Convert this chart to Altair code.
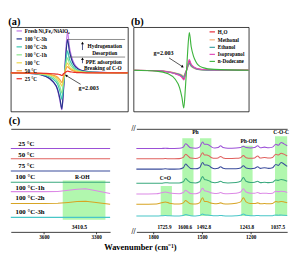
import altair as alt
import pandas as pd

FONT = "Liberation Serif"
INK = "#000000"

# ------------------------------------------------------------------ (a)
g_grid = [1.980, 1.990, 1.995, 1.998, 2.000, 2.001, 2.0018, 2.0025, 2.003,
          2.0035, 2.0042, 2.005, 2.006, 2.007, 2.008, 2.010, 2.015, 2.030]
a_names = ["Fresh Ni₃Fe₁/NiAlO₄", "100 °C-3h", "100 °C-2h", "100 °C-1h",
           "100 °C", "50 °C", "25 °C"]
a_colors = ["#c27ae8", "#28368e", "#3dc9b3", "#8fe68f", "#efd84f", "#f4a43f", "#e8302a"]
a_widths = [1.3, 1.3, 1.2, 1.2, 1.2, 1.2, 2.6]
a_fresh = [0, -1, -4, -10, -20, -32, -42, -20, 0, 25, 47, 30, 18, 11, 7, 3, 1, 0]
a_3h = [0, -1, -4, -10, -19, -30, -41, -18, 0, 20, 38, 25, 15, 9, 6, 3, 1, 0]
a_2h = [0, -1, -3, -7, -13, -21, -30, -13, 0, 13, 25, 16, 10, 6, 4, 2, 0.5, 0]
a_1h = [0, -0.5, -2, -5, -10, -16, -23, -10, 0, 9, 17, 11, 7, 4, 3, 1.5, 0.5, 0]
a_100 = [0, -0.5, -1.5, -3.5, -7, -11, -15, -6, 0, 6, 11, 7, 4.5, 3, 2, 1, 0.3, 0]
a_50 = [0, -0.3, -1, -2.5, -5, -8, -11, -4, 0, 4, 7, 5, 3, 2, 1.2, 0.6, 0.2, 0]
a_25 = [0, -0.2, -0.5, -1, -1.5, -2, -3, -1, 0, 1, 2, 1.5, 1, 0.6, 0.4, 0.2, 0, 0]
a_series = [a_fresh, a_3h, a_2h, a_1h, a_100, a_50, a_25]

a_note_text = ["Hydrogenation", "Desorption", "PPE adsorption", "Breaking of C-O", "g=2.003"]
a_note_g = [2.0201, 2.0201, 2.0197, 2.0193, 2.01325]
a_note_v = [31, 23, 12.5, 5, -17]
a_note_fs = [5.7, 5.7, 5.7, 5.7, 6.5]
a_hline_v = [38, 18]
a_hline_g1 = [2.0040, 2.0048]
a_hline_g2 = [2.0288, 2.0288]
a_arrow_g = [2.0106, 2.0106]
a_arrow_v1 = [26, 11]
a_arrow_v2 = [34, 16]
a_ptr = [2.0098, -13, 2.0036, -3]          # g1, v1, g2, v2
a_head_g = [2.0106, 2.0106, 2.0036]
a_head_v = [34, 16, -3]
a_head_ang = [0, 0, 305]

# ------------------------------------------------------------------ (b)
b_names = ["H₂O", "Methonal", "Ethanol", "Isopropanol", "n-Dodecane"]
b_colors = ["#e8303c", "#f6b27a", "#3a9fa0", "#e048b8", "#3cb43c"]
b_widths = [1.3, 1.2, 1.2, 1.3, 1.3]
b_h2o = [0, -0.5, -2, -3.5, -5.5, -7.5, -10, -4, 0, 5, 10, 6, 3.5, 2, 1.2, 0.6, 0.2, 0]
b_meoh = [0, -0.4, -1.5, -3, -4.5, -5.5, -6.5, -2.5, 0, 3.5, 7, 4.5, 2.5, 1.5, 0.9, 0.4, 0.1, 0]
b_etoh = [0, -0.5, -1.8, -3.5, -5, -6.5, -8, -3, 0, 4, 8, 5, 3, 1.8, 1, 0.5, 0.2, 0]
b_ipa = [0, -0.5, -2, -4, -6, -8, -11, -5, 0, 6, 12, 7, 4, 2.5, 1.5, 0.8, 0.3, 0]
b_dod = [0, -1, -4, -10, -20, -31, -43, -20, 0, 22, 43, 27, 16, 10, 6, 3, 1, 0]
b_series = [b_h2o, b_meoh, b_etoh, b_ipa, b_dod]
b_note_text = ["g=2.003"]
b_note_g = [1.9930]
b_note_v = [19]
b_note_fs = [6.5]
b_ptr = [1.9954, 14, 2.0013, 4]
b_head_g = [2.0013]
b_head_v = [4]
b_head_ang = [126]

# ------------------------------------------------------------------ (c)
c_names = ["25 °C", "50 °C", "75 °C", "100 °C", "100 °C-1h", "100 °C-2h", "100 °C-3h"]
c_colors = ["#9b4fd6", "#e0605e", "#3b4c9c", "#3aa97e", "#dc8ae6", "#d7a423", "#48c6c8"]
c_label_wn = [3747, 3747, 3747, 3763, 3763, 3763, 3763]
c_label_v = [93.7, 82, 70.3, 58.7, 47, 36, 21.3]

wl_grid = [3790, 3700, 3600, 3520, 3460, 3410, 3360, 3300, 3220]
cl_base = [89, 78, 65, 53, 0, 0, 15.5]
cl_25 = [0, 0, 0, 0, 0, 0, 0, 0, 0]
cl_50 = [0, 0, 0, 0, 0, 0, 0, 0, 0]
cl_75 = [0, 0, 0, 0, 0, 0, 0, 0, 0]
cl_100 = [0, 0, 0, 0, 0, 0, 0, 0, 0]
cl_1h = [43, 43, 43, 43.2, 44.5, 45.5, 46, 44, 41]
cl_2h = [30.3, 30.3, 30.3, 30.5, 31.5, 32.5, 32.7, 31.5, 29.5]
cl_3h = [0, 0, 0, 0, 0, 0, 0, 0, 0]
cl_series = [cl_25, cl_50, cl_75, cl_100, cl_1h, cl_2h, cl_3h]

wr_grid = [1904, 1780, 1750, 1726, 1700, 1640, 1615, 1600, 1588, 1570, 1540, 1515,
           1496, 1484, 1470, 1455, 1440, 1420, 1400, 1385, 1370, 1340, 1290, 1262,
           1245, 1228, 1200, 1175, 1157, 1140, 1115, 1090, 1065, 1045, 1030, 1012, 995, 975]
cr_base = [89, 78, 67, 52, 40.5, 29.5, 17]
cr_25 = [0, 0, 0, 0.3, 0, 0.2, 1.5, 5, 3.5, 0.8, 0.3, 1.5, 7, 4.5, 4.5, 3.5, 1.5, 0.5, 1, 3,
         1, 0.3, 0.5, 1, 2.5, 1, 0.5, 1, 3, 0.8, 1.5, 0.8, 1.5, 4.5, 3.5, 6.5, 5, 3]
cr_50 = [0, 0, 0, 0.3, 0, 0.2, 1.5, 5, 3.5, 0.8, 0.3, 1.5, 6.5, 4, 4, 3, 1.2, 0.5, 1, 2.5,
         1, 0.3, 0.5, 1.2, 3.5, 1.2, 0.5, 1, 3, 0.8, 1.5, 0.8, 1.5, 5, 4, 6, 5, 3]
cr_75 = [0, 0, 0, 0.3, 0, 0.2, 1.5, 5.5, 3.5, 0.8, 0.3, 1.5, 7, 4.5, 4.5, 3.5, 1.5, 0.5, 1, 2.5,
         1, 0.3, 0.5, 1.2, 3.5, 1.2, 0.5, 1, 2.5, 0.8, 1.5, 0.8, 1.5, 5, 4, 7, 5.5, 3]
cr_100 = [0, 0, 0, 0.5, 0.2, 0.2, 1.5, 5, 3, 0.8, 0.3, 1.5, 7, 4, 3.5, 2.5, 1, 0.5, 1, 2,
          0.8, 0.3, 0.8, 2, 6, 2, 0.8, 1, 2, 0.6, 1, 0.6, 1, 3.5, 3, 4, 3.5, 2]
cr_1h = [0, 0.3, 1.2, 2, 1, 0.2, 1.5, 4, 2.5, 0.6, 0.3, 1.5, 6, 3.5, 3, 2, 1, 0.5, 0.8, 1.5,
         0.6, 0.3, 0.8, 2, 5.5, 2, 0.8, 0.8, 1.5, 0.5, 0.8, 0.5, 0.8, 3, 2.5, 3, 2.5, 1.5]
cr_2h = [0, 0.3, 1.5, 2.5, 1.2, 0.2, 1.5, 4, 2.5, 0.6, 0.3, 1.5, 7, 3, 3, 2, 1, 0.5, 0.8, 1.5,
         0.6, 0.3, 1, 2.5, 7, 2.5, 0.8, 0.8, 1.5, 0.5, 0.8, 0.5, 0.8, 3, 2.5, 3, 2.5, 1.5]
cr_3h = [0, 0, 0.2, 0.5, 0.2, 0, 0.5, 1.5, 1, 0.2, 0, 0.5, 2, 1.2, 1, 0.8, 0.4, 0.2, 0.3, 0.6,
         0.2, 0, 0.3, 0.8, 2, 0.8, 0.3, 0.3, 0.6, 0.2, 0.3, 0.2, 0.3, 1, 0.8, 1, 0.8, 0.5]
cr_series = [cr_25, cr_50, cr_75, cr_100, cr_1h, cr_2h, cr_3h]

bandL_wn1 = [3492]
bandL_wn2 = [3247]
bandL_v1 = [13]
bandL_v2 = [55]
bandR_wn1 = [1754, 1621, 1512, 1258, 1050]
bandR_wn2 = [1685, 1552, 1442, 1188, 975]
bandR_v1 = [17, 17, 17, 17, 17]
bandR_v2 = [49, 100, 100, 92, 102]

noteL_text = ["R-OH", "3410.5"]
noteL_wn = [3380, 3396]
noteL_v = [59, 5]
noteL_fs = [6, 6]
noteR_text = ["C=O", "Ph", "Ph-OH", "C-O-C", "1725.9", "1600.6", "1492.8", "1243.8", "1037.5", "//", "//"]
noteR_wn = [1725, 1540, 1212, 1012, 1731, 1604, 1488, 1223, 1032, 1921, 1921]
noteR_v = [57, 106, 97, 106, 5, 5, 5, 5, 5, 110, 0]
noteR_fs = [5.8, 6, 5.8, 5.8, 5.5, 5.5, 5.5, 5.5, 5.5, 8, 8]

BAND = "#9ef59a"


def epr_panel(names, colors, widths, series, legx, legy, notes, ptr, heads,
              hl=None, vr=None, ypad=2.5, label="(a)", width=125, ydom=(-44, 52)):
    xs = alt.Scale(domain=[1.98, 2.03], nice=False, zero=False)
    ys = alt.Scale(domain=list(ydom), nice=False, zero=False)
    rows = []
    for name, vals in zip(names, series):
        for i, (g, v) in enumerate(zip(g_grid, vals)):
            rows.append({"s": name, "x": g, "v": v, "i": i})
    df = pd.DataFrame(rows)
    lines = alt.Chart(df).mark_line(interpolate="monotone").encode(
        x=alt.X("x:Q", scale=xs, axis=alt.Axis(
            values=[1.98, 1.99, 2.00, 2.01, 2.02, 2.03], format=".2f", title="g-factor",
            labelFlush=False, tickSize=2, labelPadding=6, titlePadding=3, grid=False,
            domain=False, labelFontSize=5.5, titleFontSize=8)),
        y=alt.Y("v:Q", scale=ys, axis=alt.Axis(
            title="Intensity (a.u.)", labels=False, ticks=False, domain=False, grid=False,
            titleFontSize=7.5, titlePadding=ypad, minExtent=0)),
        color=alt.Color("s:N", scale=alt.Scale(domain=names, range=colors), legend=alt.Legend(
            title=None, orient="none", legendX=legx, legendY=legy, symbolType="stroke",
            symbolSize=33, symbolStrokeWidth=1.3, labelFont=FONT, labelFontWeight="bold",
            labelFontSize=5.5, labelColor=INK, rowPadding=0.5, labelOffset=2, padding=0)),
        strokeWidth=alt.StrokeWidth("s:N", scale=alt.Scale(domain=names, range=widths), legend=None),
        order=alt.Order("i:Q"),
    )
    layers = [lines]
    if hl is not None:
        hdf = pd.DataFrame({"x": hl[0], "x2": hl[1], "v": hl[2]})
        layers.append(alt.Chart(hdf).mark_rule(color="#555555", strokeWidth=0.7).encode(
            x=alt.X("x:Q", scale=xs, axis=None), x2="x2:Q",
            y=alt.Y("v:Q", scale=ys, axis=None)))
    if vr is not None:
        vdf = pd.DataFrame({"x": vr[0], "v": vr[1], "v2": vr[2]})
        layers.append(alt.Chart(vdf).mark_rule(color="#1a2060", strokeWidth=0.8).encode(
            x=alt.X("x:Q", scale=xs, axis=None),
            y=alt.Y("v:Q", scale=ys, axis=None), y2="v2:Q"))
    pdf = pd.DataFrame({"x": [ptr[0]], "v": [ptr[1]], "x2": [ptr[2]], "v2": [ptr[3]]})
    layers.append(alt.Chart(pdf).mark_rule(color=INK, strokeWidth=0.7).encode(
        x=alt.X("x:Q", scale=xs, axis=None), x2="x2:Q",
        y=alt.Y("v:Q", scale=ys, axis=None), y2="v2:Q"))
    hdf2 = pd.DataFrame({"x": heads[0], "v": heads[1], "a": heads[2]})
    layers.append(alt.Chart(hdf2).mark_point(shape="triangle-up", filled=True, size=9,
                                             color=INK, opacity=1).encode(
        x=alt.X("x:Q", scale=xs, axis=None),
        y=alt.Y("v:Q", scale=ys, axis=None),
        angle=alt.Angle("a:Q", scale=None)))
    ndf = pd.DataFrame({"x": notes[1], "v": notes[2], "t": notes[0], "fs": notes[3]})
    layers.append(alt.Chart(ndf).mark_text(font=FONT, fontWeight="bold", color=INK,
                                           align="center", baseline="middle").encode(
        x=alt.X("x:Q", scale=xs, axis=None),
        y=alt.Y("v:Q", scale=ys, axis=None),
        text="t:N", size=alt.Size("fs:Q", scale=None, legend=None)))
    return alt.layer(*layers).properties(
        width=width, height=90,
        view=alt.ViewBackground(stroke=INK, strokeWidth=0.8),
        title=alt.TitleParams(label, anchor="start", frame="bounds", orient="top", offset=0,
                              baseline="top", fontSize=11, font=FONT, fontWeight="bold",
                              color=INK))


pa = epr_panel(a_names, a_colors, a_widths, a_series, 5, 0,
               [a_note_text, a_note_g, a_note_v, a_note_fs], a_ptr,
               [a_head_g, a_head_v, a_head_ang],
               hl=[a_hline_g1, a_hline_g2, a_hline_v],
               vr=[a_arrow_g, a_arrow_v1, a_arrow_v2], ypad=2.5, label="(a)", width=125,
               ydom=(-44, 52))
pb = epr_panel(b_names, b_colors, b_widths, b_series, 80, 1,
               [b_note_text, b_note_g, b_note_v, b_note_fs], b_ptr,
               [b_head_g, b_head_v, b_head_ang], ypad=12.5, label="(b)", width=123,
               ydom=(-47, 49))


def ftir_panel(grid, series, base, domain, ticks, bands, notes, left=True, width=106):
    xs = alt.Scale(domain=domain, reverse=True, nice=False, zero=False)
    ys = alt.Scale(domain=[0, 110], nice=False, zero=False)
    bdf = pd.DataFrame({"wn": bands[0], "wn2": bands[1], "v": bands[2], "v2": bands[3]})
    band = alt.Chart(bdf).mark_rect(color=BAND, opacity=0.8).encode(
        x=alt.X("wn:Q", scale=xs, axis=alt.Axis(orient="top", labels=False, ticks=False,
                                                 title=None, domain=True, grid=False)),
        x2="wn2:Q",
        y=alt.Y("v:Q", scale=ys, axis=None), y2="v2:Q")
    if left:
        yax = alt.Axis(title="Intensity (a.u.)", labels=False, ticks=False, domain=True,
                       grid=False, titleFontSize=7.5, titlePadding=2.5, minExtent=0)
    else:
        yax = alt.Axis(orient="right", title=None, labels=False, ticks=False, domain=True,
                       grid=False, minExtent=0)
    rows = []
    for k, ys_k in enumerate(series):
        for i, (w, y) in enumerate(zip(grid, ys_k)):
            rows.append({"wn": float(w), "v": float(y + base[k]), "k": k, "i": i})
    df = pd.DataFrame(rows)
    interp = "linear" if left else "monotone"
    lines = alt.Chart(df).mark_line(strokeWidth=1.1, interpolate=interp).encode(
        x=alt.X("wn:Q", scale=xs, axis=alt.Axis(
            values=ticks, format="d", title=None, labelFlush=False, tickSize=2,
            labelPadding=1, grid=False, domain=True, labelFontSize=5.5)),
        y=alt.Y("v:Q", scale=ys, axis=yax),
        color=alt.Color("k:N", scale=alt.Scale(domain=list(range(7)), range=c_colors),
                        legend=None),
        order=alt.Order("i:Q"))
    layers = [band, lines]
    ndf = pd.DataFrame({"wn": notes[1], "v": notes[2], "t": notes[0], "fs": notes[3]})
    layers.append(alt.Chart(ndf).mark_text(font=FONT, fontWeight="bold", color=INK,
                                           align="center", baseline="middle").encode(
        x=alt.X("wn:Q", scale=xs, axis=None),
        y=alt.Y("v:Q", scale=ys, axis=None),
        text="t:N", size=alt.Size("fs:Q", scale=None, legend=None)))
    props = dict(width=width, height=110)
    if left:
        ldf = pd.DataFrame({"wn": c_label_wn, "v": c_label_v, "t": c_names})
        layers.append(alt.Chart(ldf).mark_text(font=FONT, fontWeight="bold", color=INK,
                                               align="left", baseline="middle",
                                               fontSize=7.3).encode(
            x=alt.X("wn:Q", scale=xs, axis=None),
            y=alt.Y("v:Q", scale=ys, axis=None), text="t:N"))
        props["title"] = alt.TitleParams("(c)", anchor="start", frame="bounds", orient="top",
                                         offset=0, baseline="top", dy=-3, fontSize=11,
                                         font=FONT, fontWeight="bold", color=INK)
    return alt.layer(*layers).resolve_axis(x="independent").properties(**props)


pcl = ftir_panel(wl_grid, cl_series, cl_base, [3220, 3790], [3600, 3300],
                 [bandL_wn1, bandL_wn2, bandL_v1, bandL_v2],
                 [noteL_text, noteL_wn, noteL_v, noteL_fs], left=True, width=106)
pcr = ftir_panel(wr_grid, cr_series, cr_base, [975, 1904], [1800, 1500, 1200],
                 [bandR_wn1, bandR_wn2, bandR_v1, bandR_v2],
                 [noteR_text, noteR_wn, noteR_v, noteR_fs], left=False, width=161)

chart = alt.concat(
    pa, pb, pcl, pcr, columns=2,
    spacing={"row": 1.5, "column": 0},
    align={"row": "each", "column": "none"},
    bounds="full",
    title=alt.TitleParams("Wavenumber (cm⁻¹)", orient="bottom", anchor="middle", offset=3,
                          dx=-9, fontSize=9, font=FONT, fontWeight="bold", color=INK),
).resolve_scale(
    color="independent", strokeWidth="independent", x="independent", y="independent"
).properties(padding=0).configure_view(stroke="transparent").configure_axis(
    labelFont=FONT, titleFont=FONT, labelFontWeight="bold", titleFontWeight="bold",
    labelColor=INK, titleColor=INK, domainColor=INK, tickColor=INK,
    domainWidth=0.8, tickWidth=0.8)

chart.save("out.html", embed_options={"renderer": "svg", "actions": False})
